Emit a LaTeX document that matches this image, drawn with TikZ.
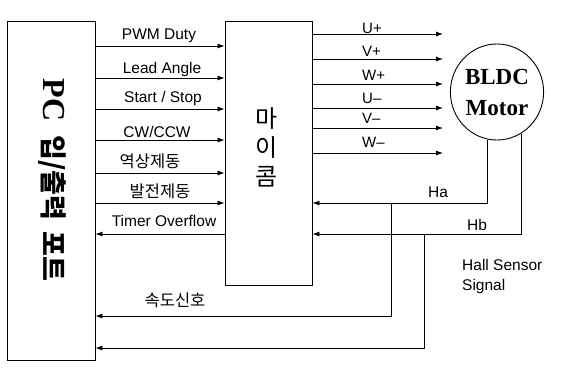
\documentclass[tikz,border=0pt]{standalone}
\usepackage{fontspec}
\setmainfont{Liberation Sans}
\newfontfamily\kr{Noto Sans CJK KR}
\newfontfamily\serifb{Liberation Serif}
\usetikzlibrary{arrows.meta,shapes.geometric}
\begin{document}
\begin{tikzpicture}[x=1pt,y=-1pt,
  box/.style={draw,line width=0.9pt,inner sep=0},
  arr/.style={-{Latex[length=7pt,width=5pt]},line width=0.8pt},
  lab/.style={font=\fontsize{15.5}{15.5}\selectfont,inner sep=0,anchor=base},
  rlab/.style={font=\fontsize{15}{15}\selectfont,inner sep=0,anchor=base west},
  klab/.style={font=\kr\fontsize{16.5}{16.5}\selectfont,inner sep=0,anchor=base},
]
\useasboundingbox (0,0) rectangle (563,376);

% blocks
\node[box,minimum width=88pt,minimum height=339pt] (pc) at (51,190.5) {};
\node[box,minimum width=87pt,minimum height=264pt] (mc) at (268.5,153) {};
\node[box,ellipse,minimum width=88pt,minimum height=96pt,inner sep=1pt,
      font=\serifb\bfseries\fontsize{23}{31}\selectfont,align=center] (motor) at (497,92) {BLDC\\Motor};

% block texts
\node[rotate=-90,inner sep=0] (pctxt) at (52,180)
  {\serifb\bfseries\fontsize{32}{32}\selectfont PC\hspace{14pt}{\kr\bfseries\fontsize{27}{27}\selectfont 입/출력\hspace{11pt}포트}};
\node[inner sep=0,align=center,font=\kr\fontsize{24}{29}\selectfont] (mctxt) at (267,147) {마\\이\\콤};

% PC -> micom signals
\foreach \y/\n in {46/a,78/b,109/c,140/d,173/e,203/f}
  \draw[arr] (pc.east |- 0,\y) -- (mc.west |- 0,\y);
\draw[arr] (mc.west |- 0,234) -- (pc.east |- 0,234);

\node[lab] (l1) at (159,39) {PWM Duty};
\node[lab] (l2) at (162,73) {Lead Angle};
\node[lab] (l3) at (163,102) {Start / Stop};
\node[lab] (l4) at (157,137) {CW/CCW};
\node[klab] (l5) at (150,167) {역상제동};
\node[klab] (l6) at (160,197) {발전제동};
\node[lab] (l7) at (164,226) {Timer Overflow};
\node[klab] (l8) at (175,306) {속도신호};

% micom -> motor phase outputs
\foreach \y/\n in {34/a,59/b,84/c,108/d,128/e,153/f}{
  \coordinate (out\n) at (443,\y);
  \draw[arr] (mc.east |- out\n) -- (out\n);
}
\node[rlab] (r1) at (362,33) {U+};
\node[rlab] (r2) at (362,56) {V+};
\node[rlab] (r3) at (362,80) {W+};
\node[rlab] (r4) at (362,103) {U–};
\node[rlab] (r5) at (362,123) {V–};
\node[rlab] (r6) at (362,147) {W–};

% hall sensor feedback
\coordinate (haY) at (0,203);
\coordinate (hbY) at (0,234);
\draw[arr] (motor.-101) |- (mc.east |- haY);
\draw[arr] (motor.-60) |- (mc.east |- hbY);
\coordinate (hajn) at (391,203);
\coordinate (hbjn) at (424,234);
\draw[arr] (hajn) |- (pc.east |- 0,316);
\draw[arr] (hbjn) |- (pc.east |- 0,348);

\node[lab] (ha) at (438,197) {Ha};
\node[lab] (hb) at (477,230) {Hb};
\node[inner sep=0,anchor=north west,align=left,font=\fontsize{15.5}{20}\selectfont] (hall) at (462,259) {Hall Sensor\\Signal};
\end{tikzpicture}
\end{document}
